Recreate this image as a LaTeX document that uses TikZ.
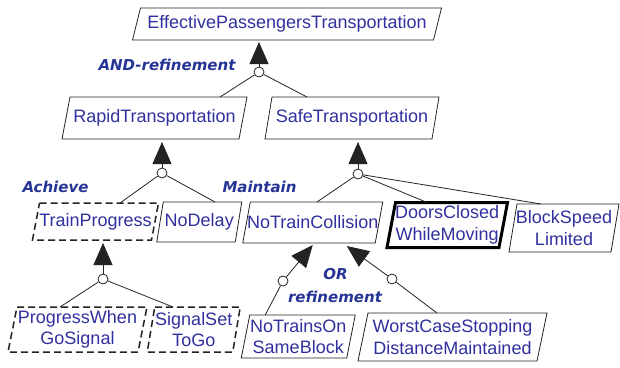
\documentclass[tikz,border=0pt]{standalone}
\usepackage{fontspec}
\setmainfont{Liberation Sans}
\newfontfamily\lblfont{DejaVu Sans}
\usetikzlibrary{arrows.meta,calc}
\definecolor{txtblue}{RGB}{48,48,158}
\definecolor{lblblue}{RGB}{38,52,150}
\definecolor{edgecol}{RGB}{35,35,35}
\newcommand\parallelbox[3]{\draw[#2] ([xshift=#3pt]#1.north west) -- ([xshift=#3pt]#1.north east) -- ([xshift=-#3pt]#1.south east) -- ([xshift=-#3pt]#1.south west) -- cycle;}
\begin{document}
\begin{tikzpicture}[x=1pt,y=-1pt,
  goal/.style={inner sep=0pt, outer sep=0pt, text=txtblue, font=\fontsize{18}{21.5}\selectfont, align=center},
  lbl/.style={text=lblblue, font=\lblfont\bfseries\itshape\fontsize{15}{17}\selectfont, inner sep=0pt},
  refc/.style={circle, draw=edgecol, fill=white, line width=0.8pt, minimum size=10pt, inner sep=0pt},
  link/.style={draw=edgecol, line width=0.8pt},
  refarrow/.style={draw=edgecol, line width=0.8pt, -{Triangle[length=22pt,width=19pt]}, shorten >=2pt},
  plainbox/.style={draw=edgecol, line width=0.8pt},
  dashbox/.style={draw=edgecol, line width=1.5pt, dash pattern=on 7pt off 4pt},
  thickbox/.style={draw=black, line width=3pt}]
\useasboundingbox (0,0) rectangle (620,367);
% goals
\node[goal, minimum width=301pt, minimum height=32pt] (ept) at (287,24) {EffectivePassengersTransportation};
\node[goal, minimum width=177pt, minimum height=42pt] (rapid) at (154.5,118) {RapidTransportation};
\node[goal, minimum width=167pt, minimum height=42pt] (safe) at (352,118) {SafeTransportation};
\node[goal, minimum width=119pt, minimum height=37pt] (trainp) at (95.5,221.5) {TrainProgress};
\node[goal, minimum width=78.5pt, minimum height=40pt] (nodelay) at (199.25,222) {NoDelay};
\node[goal, minimum width=132.5pt, minimum height=41pt] (ntc) at (312.75,222.5) {NoTrainCollision};
\node[goal, minimum width=112pt, minimum height=45pt] (doors) at (447.25,225) {DoorsClosed\\WhileMoving};
\node[goal, minimum width=102pt, minimum height=48pt] (block) at (564,228) {BlockSpeed\\Limited};
\node[goal, minimum width=130pt, minimum height=45pt] (progress) at (77.5,329.5) {ProgressWhen\\GoSignal};
\node[goal, minimum width=85.5pt, minimum height=45pt] (signal) at (193.75,329.5) {SignalSet\\ToGo};
\node[goal, minimum width=105.5pt, minimum height=43pt] (notrains) at (298.25,336.5) {NoTrainsOn\\SameBlock};
\node[goal, minimum width=179pt, minimum height=48pt] (worst) at (452.5,337) {WorstCaseStopping\\DistanceMaintained};
\parallelbox{ept}{plainbox}{4}
\parallelbox{rapid}{plainbox}{4}
\parallelbox{safe}{plainbox}{3.5}
\parallelbox{trainp}{dashbox}{3.5}
\parallelbox{nodelay}{plainbox}{3.25}
\parallelbox{ntc}{plainbox}{3.75}
\parallelbox{doors}{thickbox}{4.25}
\parallelbox{block}{plainbox}{4}
\parallelbox{progress}{dashbox}{4.5}
\parallelbox{signal}{dashbox}{3.75}
\parallelbox{notrains}{plainbox}{4.25}
\parallelbox{worst}{plainbox}{5}
% labels
\node[lbl] (andl) at (167,65) {AND-refinement};
\node[lbl] (ach) at (55.5,187) {Achieve};
\node[lbl] (mnt) at (259.5,187) {Maintain};
\node[lbl] (orl) at (335.5,274) {OR};
\node[lbl] (refl) at (335,297) {refinement};
% refinement circles
\node[refc] (cA) at (259,72) {};
\node[refc] (cB) at (162,173) {};
\node[refc] (cC) at (358,174) {};
\node[refc] (cD) at (103,279) {};
\node[refc] (cE) at (283,281) {};
\node[refc] (cF) at (392,279) {};
\coordinate (apL) at ([yshift=-2pt]ntc.south);
\coordinate (apR) at ([xshift=34pt,yshift=-3pt]ntc.south);
% arrows to parents
\draw[refarrow] (cA) -- (cA |- ept.south);
\draw[refarrow, shorten >=3pt] (cB) -- (cB |- rapid.south);
\draw[refarrow, shorten >=3pt] (cC) -- (cC |- safe.south);
\draw[refarrow, shorten >=3pt] (cD) -- (cD |- trainp.south);
\draw[refarrow, shorten >=0pt] (cE) -- (apL);
\draw[refarrow, shorten >=0pt] (cF) -- (apR);
% links to children
\draw[link] (cA) -- ([xshift=65.5pt]rapid.north);
\draw[link] (cA) -- ([xshift=-45pt]safe.north);
\draw[link] (cB) -- ([xshift=24.5pt]trainp.north);
\draw[link] (cB) -- ([xshift=15.75pt]nodelay.north);
\draw[link] (cC) -- ([xshift=4.25pt]ntc.north);
\draw[link] (cC) -- ([xshift=-20pt]doors.north);
\draw[link] (cC) -- ([xshift=-23pt]block.north);
\draw[link] (cD) -- ([xshift=-17.5pt]progress.north);
\draw[link] (cD) -- ([xshift=-20.75pt]signal.north);
\draw[link] (cE) -- ([xshift=-33pt]notrains.north);
\draw[link] (cF) -- ([xshift=-15.5pt]worst.north);
\end{tikzpicture}
\end{document}
